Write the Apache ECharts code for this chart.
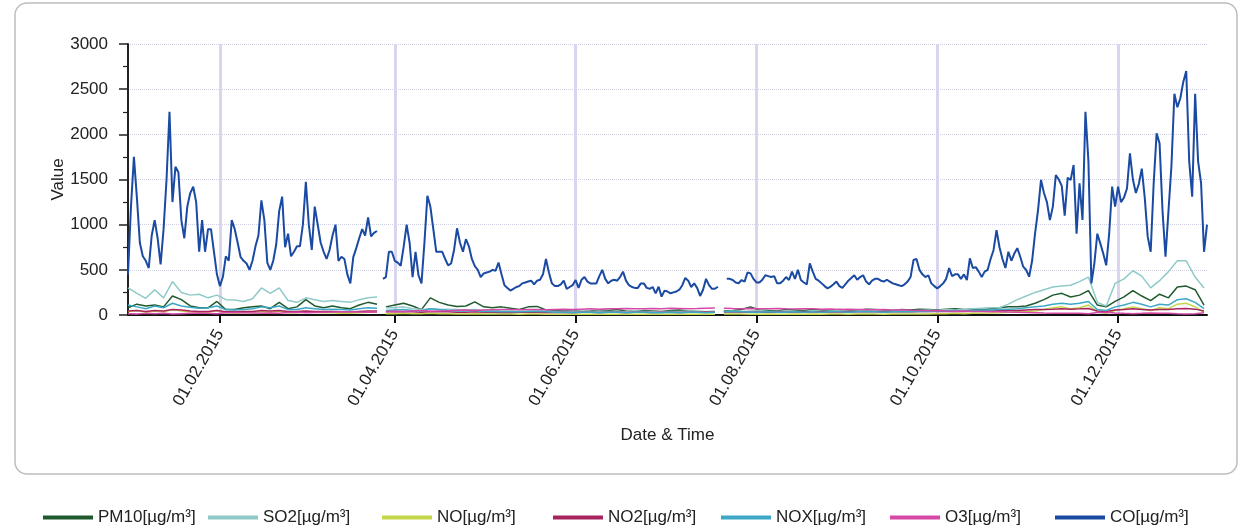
<!DOCTYPE html>
<html>
<head>
<meta charset="utf-8">
<script src="https://cdn.jsdelivr.net/npm/echarts@6/dist/echarts.min.js"></script>
<style>
html,body{margin:0;padding:0;background:#fff;}
#chart{width:1246px;height:530px;}
</style>
</head>
<body>
<div id="chart"></div>
<script>
// ---- data ----
const seriesNames = ['PM10[µg/m³]','SO2[µg/m³]','NO[µg/m³]','NO2[µg/m³]','NOX[µg/m³]','O3[µg/m³]','CO[µg/m³]'];
const tickLabels = ['01.02.2015','01.04.2015','01.06.2015','01.08.2015','01.10.2015','01.12.2015'];
const yTicks = [0,500,1000,1500,2000,2500,3000];

// daily CO values, 01.01.2015 .. 31.12.2015 (null = missing)
const co = [
 450,1200,1750,1300,800,650,600,520,880,1050,
 850,560,950,1500,2250,1250,1640,1580,1050,850,
 1200,1350,1420,1250,700,1050,700,950,950,700,
 450,320,420,650,600,1050,950,800,640,600,
 570,500,600,760,880,1270,1050,580,500,600,
 780,1150,1310,750,900,650,700,760,760,1000,
 1475,1000,720,1200,1000,800,700,620,720,880,
 1000,600,645,620,450,350,640,740,850,950,
 880,1080,870,910,930,null,400,420,700,700,
 600,580,545,756,1000,800,420,700,440,350,
 800,1320,1200,950,700,700,700,620,550,570,
 720,960,800,700,840,760,620,540,500,420,
 460,470,480,500,490,580,450,330,300,270,
 290,310,320,350,360,370,380,340,380,390,
 450,620,470,350,320,320,340,380,290,310,
 330,387,300,390,420,370,350,350,350,430,
 500,400,350,380,390,380,420,480,380,330,
 310,300,300,350,350,300,290,310,240,313,
 203,270,260,240,250,260,280,330,410,380,
 310,350,300,210,280,400,330,290,290,313,
 null,null,400,400,387,360,351,387,370,470,
 461,400,360,360,390,440,430,420,430,351,
 351,380,420,387,480,400,500,387,360,340,
 572,480,400,380,350,320,295,313,340,370,
 320,300,340,380,410,440,390,420,440,370,
 340,380,400,400,380,370,390,370,350,340,
 330,320,340,370,420,609,620,500,450,420,
 440,350,320,295,320,350,400,520,430,450,
 450,400,450,387,627,520,530,480,420,480,
 500,620,720,940,750,620,520,700,600,680,
 740,645,535,498,424,600,904,1162,1495,1350,
 1250,1050,1200,1550,1500,1430,1100,1520,1495,1661,
 900,1458,1052,2250,1700,350,572,900,793,680,
 550,900,1421,1199,1421,1250,1300,1400,1790,1500,
 1350,1450,1620,1300,867,700,1450,2011,1900,1150,
 645,1150,1650,2450,2300,2400,2580,2700,1700,1310,
 2450,1700,1460,700,1000
];

// other pollutants, read every 3rd day (day index 0,3,6,...,363)
const sampleStep = 3;
const gapDays = [85, 200];
const pm10 = [
 80,120,100,110,90,210,170,100,80,80,
 150,60,60,80,90,100,70,140,70,90,
 170,100,80,100,80,70,110,140,120,90,
 110,130,100,60,190,140,110,95,100,145,
 90,80,90,75,60,90,95,55,50,45,
 50,40,45,55,50,60,45,40,50,45,
 40,50,55,45,40,35,40,45,50,60,
 90,55,50,45,60,55,50,60,55,50,
 60,55,50,65,60,55,50,60,55,65,
 60,55,65,70,60,65,60,70,80,90,
 90,100,130,170,220,240,200,220,270,110,
 90,150,200,270,210,160,230,190,310,320,
 280,110
];
const so2 = [
 300,240,185,280,190,370,250,220,230,190,
 220,170,165,150,180,300,240,300,160,140,
 190,170,150,160,150,140,170,190,200,80,
 80,90,70,60,70,60,65,60,55,60,
 50,50,45,45,40,45,50,45,40,40,
 45,40,40,45,40,35,40,45,40,40,
 35,40,40,45,40,35,40,40,45,40,
 45,50,40,40,45,40,40,45,40,45,
 45,40,45,50,45,40,45,50,45,50,
 55,50,60,55,60,70,75,80,80,120,
 170,210,250,280,310,320,330,370,420,140,
 100,350,400,490,430,300,380,480,600,600,
 420,300
];
const no = [
 40,50,30,45,35,60,45,35,30,30,
 50,25,20,25,30,40,30,45,25,25,
 35,30,25,25,20,20,25,30,30,15,
 15,20,15,15,20,15,15,12,12,15,
 10,10,10,10,8,10,10,8,8,8,
 8,7,9,8,7,8,9,8,7,8,
 8,9,8,7,8,9,8,10,12,10,
 9,8,10,9,8,10,9,10,9,10,
 10,9,11,12,10,9,11,12,11,12,
 12,14,15,18,15,18,20,22,25,30,
 35,40,45,60,80,90,70,80,110,30,
 20,50,70,90,70,50,80,70,120,130,
 90,30
];
const no2 = [
 45,50,40,50,45,60,55,45,40,40,
 50,35,35,40,40,50,45,50,40,40,
 45,40,40,40,35,35,40,45,45,35,
 35,40,35,30,40,35,35,30,30,35,
 30,30,28,28,30,30,30,28,28,30,
 28,30,30,28,30,30,28,30,30,28,
 30,30,28,30,30,32,30,32,35,32,
 30,32,30,32,30,32,35,32,35,32,
 35,32,35,38,35,32,35,38,35,38,
 38,40,40,42,40,42,45,45,48,50,
 50,55,60,62,65,70,65,68,72,45,
 40,55,60,68,62,55,62,60,70,72,
 65,45
];
const nox = [
 110,90,70,100,80,130,100,85,75,80,
 100,60,55,60,70,90,80,100,60,60,
 80,70,60,65,60,55,70,80,75,50,
 55,60,50,45,70,60,50,45,45,50,
 40,40,35,35,35,40,40,35,30,30,
 25,30,30,25,30,30,25,30,30,25,
 25,30,25,30,30,25,30,35,40,35,
 30,30,35,30,30,35,30,35,30,35,
 35,30,35,40,35,30,35,40,35,40,
 40,45,45,50,45,50,55,55,60,65,
 70,80,90,100,120,130,120,130,150,60,
 50,90,110,140,120,90,120,110,170,180,
 140,70
];
const o3 = [
 15,12,18,14,20,10,14,18,22,20,
 15,25,28,25,22,18,22,20,28,30,
 25,28,30,32,35,35,32,30,32,40,
 42,40,45,50,42,45,48,52,55,50,
 55,58,60,62,58,60,62,58,62,65,
 62,65,68,65,70,68,72,70,68,72,
 70,74,72,70,72,75,78,76,72,70,
 72,68,70,72,68,66,70,68,65,66,
 62,65,60,62,58,60,55,58,52,50,
 48,50,45,42,44,40,38,36,35,32,
 30,28,25,22,20,18,20,18,15,28,
 30,22,18,15,18,22,18,20,15,12,
 15,25
];
const colors = ['#1f5a2e','#8fcac8','#c5d64a','#a8245e','#3ca8c6','#d548a6','#1a4aa2'];

// ---- categories (one per day of 2015) ----
const pad = n => (n < 10 ? '0' : '') + n;
const categories = [];
for (let i = 0; i < 365; i++) {
  const dt = new Date(Date.UTC(2015, 0, 1 + i));
  categories.push(pad(dt.getUTCDate()) + '.' + pad(dt.getUTCMonth() + 1) + '.' + dt.getUTCFullYear());
}
const isTick = (idx, val) => tickLabels.indexOf(val) >= 0;

function sampled(vals) {
  const out = vals.map((v, i) => [i * sampleStep, v]);
  gapDays.forEach(g => out.push([g, null]));
  out.sort((a, b) => a[0] - b[0]);
  return out;
}

const FONT = "'Liberation Sans',Arial,sans-serif";
const smallData = [pm10, so2, no, no2, nox, o3];

const series = smallData.map((arr, i) => ({
  name: seriesNames[i], type: 'line', data: sampled(arr), symbol: 'none',
  connectNulls: false, lineStyle: { width: 1.5, color: colors[i] }, itemStyle: { color: colors[i] }
}));
series.push({
  name: seriesNames[6], type: 'line', data: co, symbol: 'none', connectNulls: false,
  lineStyle: { width: 2, color: colors[6] }, itemStyle: { color: colors[6] }
});

const legendLeft = [38, 203, 377, 548, 716, 885, 1050];
const legends = seriesNames.map((n, i) => ({
  data: [n], left: legendLeft[i], top: 504, icon: 'rect', itemWidth: 50, itemHeight: 4,
  textStyle: { fontFamily: FONT, fontSize: 17, color: '#222' }, selectedMode: false
}));

const chart = echarts.init(document.getElementById('chart'), null, { renderer: 'canvas' });
chart.setOption({
  animation: false,
  backgroundColor: '#fff',
  color: colors,
  grid: { left: 128, right: 39, top: 44, bottom: 215 },
  legend: legends,
  graphic: [{
    type: 'rect', shape: { x: 15, y: 3, width: 1222, height: 471, r: 12 },
    style: { fill: 'none', stroke: '#bdbdbd', lineWidth: 1.5 }, silent: true, z: -1
  }],
  xAxis: {
    type: 'category', data: categories, boundaryGap: false,
    name: 'Date & Time', nameLocation: 'middle', nameGap: 112, nameMoveOverlap: false,
    nameTextStyle: { fontFamily: FONT, fontSize: 17, color: '#222' },
    axisLine: { lineStyle: { color: '#111', width: 2 } },
    axisTick: { interval: isTick, length: 8, lineStyle: { color: '#111', width: 2 } },
    axisLabel: { interval: isTick, rotate: 60, margin: 16, fontFamily: FONT, fontSize: 17, color: '#222' },
    splitLine: { show: true, interval: isTick, lineStyle: { color: '#d9d5ee', width: 3 } }
  },
  yAxis: {
    type: 'value', min: yTicks[0], max: yTicks[yTicks.length - 1], interval: 500,
    name: 'Value', nameLocation: 'middle', nameGap: 61, nameRotate: 90, nameMoveOverlap: false,
    nameTextStyle: { fontFamily: FONT, fontSize: 17, color: '#222' },
    axisLine: { show: true, lineStyle: { color: '#222', width: 2 } },
    axisTick: { show: true, length: 9, lineStyle: { color: '#222', width: 1.5 } },
    minorTick: { show: true, splitNumber: 2, length: 5, lineStyle: { color: '#222', width: 1.2 } },
    axisLabel: { margin: 20, fontFamily: FONT, fontSize: 17, color: '#222', formatter: v => String(v) },
    splitLine: { show: true, lineStyle: { color: '#cfcfe6', type: 'dotted', width: 1 } }
  },
  series: series
});
</script>
</body>
</html>
